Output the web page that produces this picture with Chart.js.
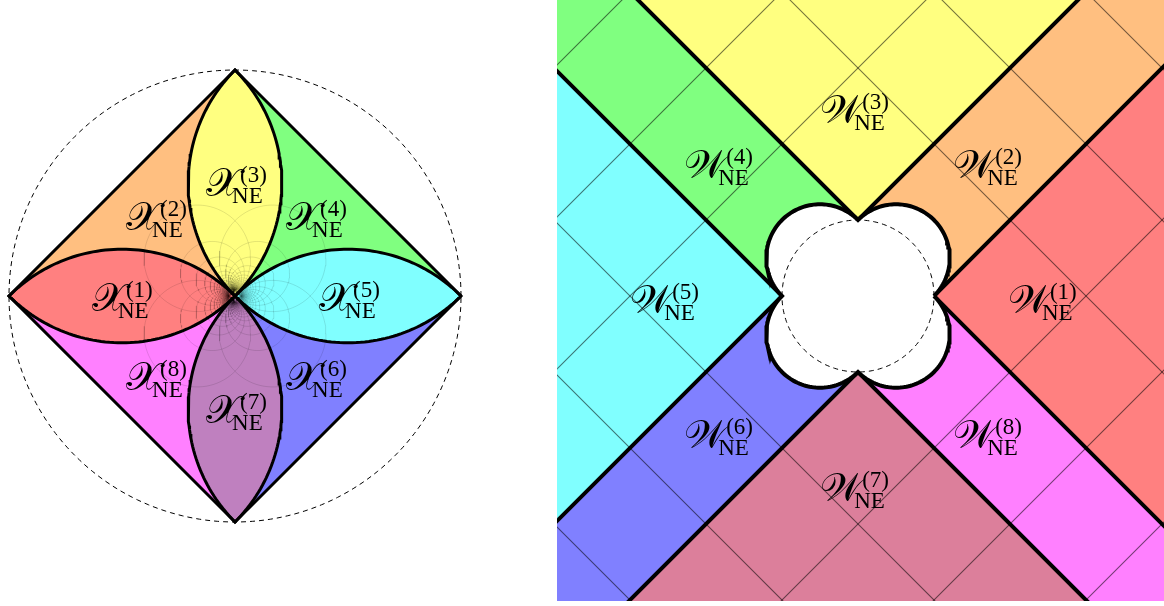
<!DOCTYPE html>
<html lang="en">
<head>
<meta charset="UTF-8">
<title>Regions X_NE and W_NE</title>
<script src="https://cdn.jsdelivr.net/npm/chart.js"></script>
<style>
  body { margin: 0; background: #fff; }
  .panel { position: absolute; top: 0; }
  #left { left: 0; }
  #right { left: 557px; }
</style>
</head>
<body>
<canvas id="left" class="panel" width="470" height="606"></canvas>
<canvas id="right" class="panel" width="607" height="601"></canvas>
<script>
// region numbers and fill colours (same order in both panels)
const regions = ['1', '2', '3', '4', '5', '6', '7', '8'];
const xColors = ['#ff8080', '#ffbf80', '#ffff80', '#80ff80', '#80ffff', '#8080ff', '#bf80bf', '#ff80ff'];
const wColors = ['#ff8080', '#ffbf80', '#ffff80', '#80ff80', '#80ffff', '#8080ff', '#dc7f9b', '#ff80ff'];

// X plane: lens regions run from the origin along an axis, the others are quadrant triangles
const lensDirs = { 1: [-1, 0], 3: [0, 1], 5: [1, 0], 7: [0, -1] };
const cornerDirs = { 2: [-1, 1], 4: [1, 1], 6: [1, -1], 8: [-1, -1] };

// W plane: each region is a cell in s = x+y, t = x-y  (-1: below -1, 0: between, 1: above 1)
const wCells = { 1: [1, 1], 2: [1, 0], 3: [1, -1], 4: [0, -1], 5: [-1, -1], 6: [-1, 0], 7: [-1, 1], 8: [0, 1] };

// lines s = k and t = k in W; k = ±1 are the thick borders
const borderLines = [-1, 1];
const gridLines = [-9, -7, -5, -3, 3, 5, 7, 9];
// the thin lines map to small circles through the origin of X
const circleKs = [3, 5, 7, 9, 11, 13, 15, 17, 19, 21, 23, 25, 27, 29, 31, 33, 35, 37, 39, 41];

// label anchors (left end of the "NE" subscript, on its baseline)
const xLabelAt = [[-0.518, -0.097], [-0.367, 0.261], [-0.013, 0.412], [0.341, 0.261],
                  [0.487, -0.097], [0.341, -0.447], [-0.013, -0.593], [-0.367, -0.447]];
const wLabelAt = [[2.42, -0.32], [1.70, 1.46], [-0.05, 2.18], [-1.84, 1.46],
                  [-2.55, -0.32], [-1.84, -2.09], [-0.05, -2.79], [1.70, -2.09]];

// ---------- geometry helpers ----------
function arc(cx, cy, r, a0, a1, n) {
    const pts = [];
    for (let i = 0; i <= n; i++) {
        const a = a0 + (a1 - a0) * i / n;
        pts.push({ x: cx + r * Math.cos(a), y: cy + r * Math.sin(a) });
    }
    return pts;
}

function shortArc(cx, cy, p, q, n) {
    const r = Math.hypot(p[0] - cx, p[1] - cy);
    const a0 = Math.atan2(p[1] - cy, p[0] - cx);
    let d = Math.atan2(q[1] - cy, q[0] - cx) - a0;
    while (d > Math.PI) d -= 2 * Math.PI;
    while (d < -Math.PI) d += 2 * Math.PI;
    return arc(cx, cy, r, a0, a0 + d, n);
}

function lens(e) {
    const [ex, ey] = e, nx = -ey, ny = ex;
    const a = shortArc((ex + nx) / 2, (ey + ny) / 2, [0, 0], e, 60);
    const b = shortArc((ex - nx) / 2, (ey - ny) / 2, e, [0, 0], 60);
    return a.concat(b.slice(1));
}

function toPts(list) {
    return list.map(p => ({ x: p[0], y: p[1] }));
}

// line dataset; later pushed datasets are drawn on top
function addShape(list, pts, opts) {
    list.push(Object.assign({
        data: pts, showLine: true, pointRadius: 0, pointHoverRadius: 0, tension: 0,
        borderWidth: 0, borderColor: 'rgba(0,0,0,0)', fill: false, order: -list.length
    }, opts));
}

// ---------- label plugin ----------
const labelPlugin = {
    id: 'regionLabels',
    afterDraw(chart, args, opts) {
        const ctx = chart.ctx, xs = chart.scales.x, ys = chart.scales.y;
        ctx.save();
        ctx.fillStyle = '#000';
        ctx.textBaseline = 'alphabetic';
        opts.at.forEach((a, i) => {
            const px = xs.getPixelForValue(a[0]), py = ys.getPixelForValue(a[1]);
            ctx.font = '40px "DejaVu Sans", serif';
            ctx.textAlign = 'right';
            ctx.fillText(opts.letter, px + 8, py - 7);
            ctx.font = '23px "Liberation Serif", serif';
            ctx.textAlign = 'left';
            ctx.fillText('NE', px, py);
            ctx.fillText('(' + regions[i] + ')', px + 8, py - 21);
        });
        ctx.restore();
    }
};

function makeChart(id, unit, cx, cy, datasets, letter, at) {
    const canvas = document.getElementById(id);
    const w = canvas.width, h = canvas.height;
    return new Chart(canvas, {
        type: 'scatter',
        data: { datasets: datasets },
        options: {
            responsive: false, animation: false, events: [],
            layout: { padding: 0 },
            plugins: { legend: { display: false }, tooltip: { enabled: false },
                       regionLabels: { letter: letter, at: at } },
            scales: {
                x: { type: 'linear', display: false, min: -cx / unit, max: (w - cx) / unit },
                y: { type: 'linear', display: false, min: -(h - cy) / unit, max: cy / unit }
            }
        },
        plugins: [labelPlugin]
    });
}

// ---------- left panel: X plane ----------
const xSets = [];
regions.forEach((r, i) => {
    if (cornerDirs[r]) {
        const [dx, dy] = cornerDirs[r];
        addShape(xSets, toPts([[0, 0], [dx, 0], [0, dy], [0, 0]]), { fill: 'shape', backgroundColor: xColors[i] });
    }
});
regions.forEach((r, i) => {
    if (lensDirs[r]) addShape(xSets, lens(lensDirs[r]), { fill: 'shape', backgroundColor: xColors[i] });
});
circleKs.forEach(k => {
    const c = 1 / (2 * k), rad = Math.SQRT2 * c;
    [[1, 1], [-1, 1], [-1, -1], [1, -1]].forEach(([sx, sy]) => {
        addShape(xSets, arc(sx * c, sy * c, rad, 0, 2 * Math.PI, 90),
                 { borderWidth: 0.8, borderColor: 'rgba(0,0,0,0.14)' });
    });
});
regions.forEach(r => {
    if (lensDirs[r]) addShape(xSets, lens(lensDirs[r]), { borderWidth: 3, borderColor: '#000' });
});
addShape(xSets, toPts([[1, 0], [0, 1], [-1, 0], [0, -1], [1, 0]]), { borderWidth: 3, borderColor: '#000', borderJoinStyle: 'miter' });
addShape(xSets, arc(0, 0, 1, 0, 2 * Math.PI, 240), { borderWidth: 1, borderColor: '#000', borderDash: [5, 4] });

makeChart('left', 226, 235, 296, xSets, '\u{1D4B3}', xLabelAt);

// ---------- right panel: W plane ----------
const M = 30;
const wSets = [];
function fromST(s, t) { return [(s + t) / 2, (s - t) / 2]; }
function band(c) { return c < 0 ? [-M, -1] : c > 0 ? [1, M] : [-1, 1]; }
regions.forEach((r, i) => {
    const [sc, tc] = wCells[r];
    const [s0, s1] = band(sc), [t0, t1] = band(tc);
    const poly = [fromST(s0, t0), fromST(s1, t0), fromST(s1, t1), fromST(s0, t1), fromST(s0, t0)];
    addShape(wSets, toPts(poly), { fill: 'shape', backgroundColor: wColors[i] });
});
gridLines.forEach(k => {
    addShape(wSets, toPts([fromST(k, -M), fromST(k, M)]), { borderWidth: 1.1, borderColor: 'rgba(0,0,0,0.55)' });
    addShape(wSets, toPts([fromST(-M, k), fromST(M, k)]), { borderWidth: 1.1, borderColor: 'rgba(0,0,0,0.55)' });
});
borderLines.forEach(k => {
    addShape(wSets, toPts([fromST(k, -M), fromST(k, M)]), { borderWidth: 4, borderColor: '#000' });
    addShape(wSets, toPts([fromST(-M, k), fromST(M, k)]), { borderWidth: 4, borderColor: '#000' });
});
// clover: four half circles through the corners of the unit diamond
let clover = [];
[[0.5, 0.5], [-0.5, 0.5], [-0.5, -0.5], [0.5, -0.5]].forEach(([a, b]) => {
    const th = Math.atan2(b, a);
    clover = clover.concat(arc(a, b, Math.SQRT1_2, th - Math.PI / 2, th + Math.PI / 2, 80));
});
clover.push(clover[0]);
addShape(wSets, clover, { fill: 'shape', backgroundColor: '#fff', borderWidth: 4, borderColor: '#000' });
addShape(wSets, arc(0, 0, 1, 0, 2 * Math.PI, 200), { borderWidth: 1, borderColor: '#000', borderDash: [5, 4] });

makeChart('right', 76, 301, 296, wSets, '\u{1D4B2}', wLabelAt);
</script>
</body>
</html>
